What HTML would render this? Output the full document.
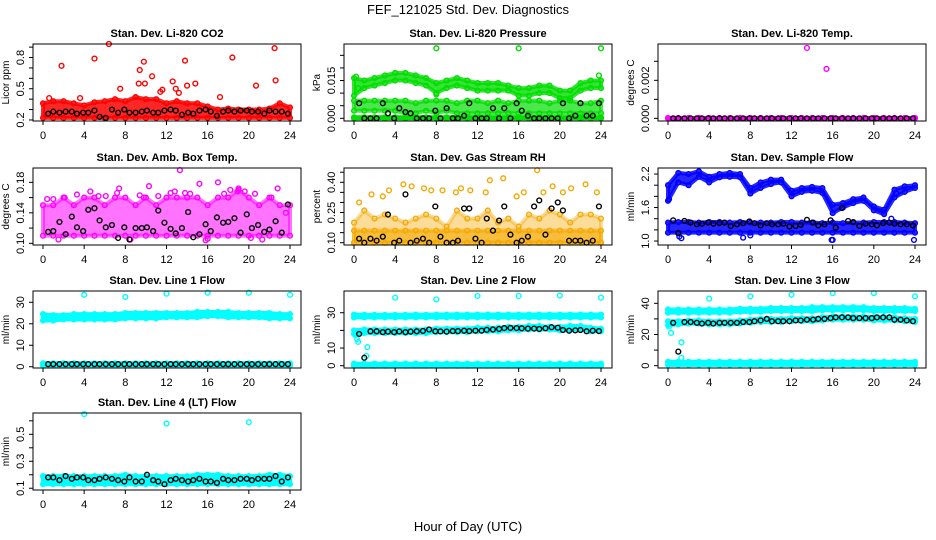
<!DOCTYPE html>
<html><head><meta charset="utf-8">
<style>
html,body{margin:0;padding:0;background:#fff;}
svg{display:block;font-family:"Liberation Sans",sans-serif;}
</style></head>
<body>
<svg id="chart" width="936" height="540" viewBox="0 0 936 540">
<text x="468" y="14" text-anchor="middle" font-size="13">FEF_121025  Std. Dev. Diagnostics</text>
<text x="468" y="531" text-anchor="middle" font-size="13">Hour of Day (UTC)</text>
</svg>
<script>
const fefXTicks = [0,4,8,12,16,20,24];
const fefBandHours = [0,1,2,3,4,5,6,7,8,9,10,11,12,13,14,15,16,17,18,19,20,21,22,23,24];
const fefBlackHours = [0.5,1,1.6,2.2,2.8,3.3,3.9,4.4,5,5.5,6.1,6.7,7.3,7.9,8.4,9,9.6,10.1,10.7,11.2,11.8,12.4,12.9,13.5,14.1,14.6,15.2,15.8,16.3,16.9,17.5,18,18.6,19.2,19.8,20.3,20.9,21.5,22,22.6,23.2,23.8];

const co2BandLow = [0.22,0.22,0.22,0.22,0.22,0.22,0.22,0.22,0.22,0.22,0.22,0.22,0.22,0.22,0.22,0.22,0.22,0.22,0.22,0.22,0.22,0.22,0.22,0.22,0.22];
const co2BandHigh = [0.36,0.38,0.38,0.36,0.34,0.37,0.38,0.40,0.38,0.42,0.40,0.40,0.36,0.38,0.36,0.36,0.33,0.30,0.31,0.30,0.30,0.30,0.31,0.36,0.32];
const co2OutT = [1.8,5,6.4,7.5,9.3,9.4,9.8,9.9,10.6,12.6,13.8,14,14.8,17.2,18.4,20.7,22.5,22.6,11.6,13.2,0.6,3.6,11.4,12.9];
const co2OutV = [0.72,0.79,0.93,0.50,0.55,0.68,0.76,0.55,0.62,0.57,0.77,0.53,0.55,0.42,0.80,0.53,0.89,0.58,0.49,0.46,0.41,0.41,0.47,0.50];
const co2Black = [0.26,0.28,0.27,0.28,0.28,0.26,0.27,0.27,0.29,0.23,0.22,0.30,0.27,0.30,0.27,0.27,0.28,0.29,0.27,0.27,0.29,0.30,0.29,0.25,0.27,0.26,0.29,0.30,0.28,0.24,0.28,0.29,0.28,0.29,0.29,0.28,0.28,0.26,0.29,0.28,0.28,0.26];

const presTopLow = [0.009,0.012,0.013,0.014,0.015,0.015,0.014,0.013,0.010,0.012,0.013,0.012,0.011,0.011,0.011,0.011,0.009,0.009,0.010,0.010,0.008,0.008,0.011,0.012,0.012];
const presTopHigh = [0.016,0.015,0.016,0.017,0.018,0.018,0.017,0.016,0.014,0.015,0.016,0.015,0.014,0.014,0.014,0.013,0.012,0.012,0.013,0.013,0.011,0.011,0.014,0.015,0.015];
const presMidLow = [0.003,0.003,0.003,0.003,0.003,0.002,0.002,0.003,0.002,0.003,0.002,0.002,0.002,0.002,0.002,0.002,0.002,0.002,0.002,0.002,0.002,0.002,0.002,0.002,0.002];
const presMidHigh = [0.007,0.007,0.007,0.007,0.007,0.007,0.006,0.007,0.007,0.007,0.006,0.007,0.007,0.006,0.007,0.006,0.007,0.007,0.007,0.006,0.007,0.007,0.006,0.006,0.007];
const presZeroLow = [0,0,0,0,0,0,0,0,0,0,0,0,0,0,0,0,0,0,0,0,0,0,0,0,0];
const presZeroHigh = [0.0004,0.0004,0.0004,0.0004,0.0004,0.0004,0.0004,0.0004,0.0004,0.0004,0.0004,0.0004,0.0004,0.0004,0.0004,0.0004,0.0004,0.0004,0.0004,0.0004,0.0004,0.0004,0.0004,0.0004,0.0004];
const presOutT = [8,16,24,0.2,0.4,8,23.8];
const presOutV = [0.0278,0.0278,0.0278,0.0165,0.012,0.0095,0.017];
const presBlack = [0.006,0,0,0,0.006,0.002,0,0.004,0.0025,0.002,0,0,0,0.003,0,0.004,0,0,0.001,0.006,0,0,0,0.004,0,0.004,0,0.006,0.003,0.001,0,0,0,0,0,0.006,0,0.001,0.006,0.001,0.001,0.006];

const tempBandLow = [0,0,0,0,0,0,0,0,0,0,0,0,0,0,0,0,0,0,0,0,0,0,0,0,0];
const tempBandHigh = [0.00002,0.00002,0.00002,0.00002,0.00002,0.00002,0.00002,0.00002,0.00002,0.00002,0.00002,0.00002,0.00002,0.00002,0.00002,0.00002,0.00002,0.00002,0.00002,0.00002,0.00002,0.00002,0.00002,0.00002,0.00002];
const tempOutT = [13.5,15.4];
const tempOutV = [0.0037,0.0026];
const tempBlack = [0,0,0,0,0,0,0,0,0,0,0,0,0,0,0,0,0,0,0,0,0,0,0,0,0,0,0,0,0,0,0,0,0,0,0,0,0,0,0,0,0,0];

const ambBandLow = [0.11,0.11,0.11,0.11,0.11,0.11,0.11,0.11,0.11,0.11,0.11,0.11,0.11,0.11,0.11,0.11,0.11,0.11,0.11,0.11,0.11,0.11,0.11,0.11,0.11];
const ambBandHigh = [0.15,0.15,0.16,0.15,0.16,0.16,0.15,0.16,0.16,0.15,0.16,0.15,0.16,0.16,0.16,0.16,0.15,0.16,0.16,0.17,0.16,0.15,0.16,0.15,0.15];
const ambOutT = [13.3,17,15.2,19,22.8,10.3,7.4,0.4,1.5,3.3,4.6,6.1,8.5,9.4,11.2,12.4,13.8,16,17.6,18.9,20.6,21.3,23.6,2.1,5.4,7.2,9.8,14.3,15.8,19.6,22.2,1,12.8,18.2,20.2];
const ambOutV = [0.196,0.180,0.178,0.172,0.172,0.175,0.172,0.158,0.105,0.164,0.168,0.162,0.105,0.163,0.162,0.166,0.166,0.106,0.165,0.168,0.165,0.105,0.14,0.160,0.162,0.166,0.16,0.165,0.104,0.168,0.16,0.158,0.168,0.17,0.107];
const ambBlack = [0.115,0.116,0.128,0.112,0.135,0.121,0.116,0.144,0.146,0.130,0.121,0.124,0.107,0.121,0.105,0.120,0.120,0.121,0.116,0.143,0.127,0.119,0.113,0.120,0.141,0.108,0.112,0.125,0.116,0.134,0.127,0.128,0.133,0.114,0.138,0.120,0.124,0.115,0.118,0.129,0.114,0.151];

const rhBandLow = [0.10,0.10,0.10,0.10,0.10,0.10,0.10,0.10,0.10,0.10,0.10,0.10,0.10,0.10,0.10,0.10,0.10,0.10,0.10,0.10,0.10,0.10,0.10,0.10,0.10];
const rhBandHigh = [0.20,0.26,0.22,0.24,0.22,0.20,0.22,0.24,0.22,0.18,0.26,0.22,0.22,0.26,0.20,0.22,0.18,0.24,0.22,0.26,0.24,0.20,0.24,0.24,0.22];
const rhLowHigh = [0.16,0.16,0.16,0.16,0.16,0.16,0.16,0.16,0.16,0.16,0.16,0.16,0.16,0.16,0.16,0.16,0.16,0.16,0.16,0.16,0.16,0.16,0.16,0.16,0.16];
const rhOutT = [17.8,14.5,13.2,4.8,22.5,19.3,2.8,3.4,5.6,6.8,8.6,9.9,11.3,12.8,15.8,16.5,20.3,21.1,23.6,1.7,7.5,10.4,18.4,0.5];
const rhOutV = [0.46,0.42,0.41,0.39,0.39,0.38,0.33,0.36,0.38,0.37,0.36,0.35,0.36,0.35,0.33,0.35,0.35,0.37,0.35,0.34,0.36,0.37,0.35,0.30];
const rhBlack = [0.12,0.10,0.12,0.11,0.13,0.24,0.10,0.11,0.34,0.10,0.11,0.12,0.10,0.28,0.13,0.10,0.10,0.11,0.27,0.27,0.12,0.10,0.22,0.16,0.21,0.28,0.14,0.10,0.11,0.13,0.28,0.31,0.14,0.27,0.30,0.26,0.11,0.11,0.11,0.10,0.11,0.28];

const flowTopLow = [1.72,2.05,2.00,2.15,2.05,2.14,2.15,2.14,1.85,1.95,2.02,2.05,1.80,1.88,1.90,1.86,1.50,1.60,1.68,1.72,1.55,1.48,1.78,1.88,1.95];
const flowTopHigh = [2.00,2.22,2.20,2.25,2.15,2.20,2.22,2.20,1.95,2.05,2.10,2.10,1.90,1.95,1.97,1.95,1.65,1.68,1.75,1.78,1.62,1.56,1.92,1.98,2.00];
const flowLowLow = [1.15,1.15,1.15,1.15,1.15,1.15,1.15,1.15,1.15,1.15,1.15,1.15,1.15,1.15,1.15,1.15,1.15,1.15,1.15,1.15,1.15,1.15,1.15,1.15,1.15];
const flowLowHigh = [1.33,1.34,1.34,1.33,1.34,1.34,1.33,1.34,1.33,1.33,1.33,1.34,1.34,1.33,1.33,1.32,1.33,1.32,1.33,1.33,1.34,1.34,1.34,1.33,1.32];
const flowOutT = [0.1,1.1,1.3,7.3,8,15.9,16,23.9,21.7,22.2];
const flowOutV = [1.75,1.08,1.05,1.06,1.10,1.02,1.02,1.02,1.40,1.85];
const flowBlack = [1.37,1.14,1.36,1.33,1.30,1.31,1.33,1.31,1.32,1.33,1.27,1.30,1.32,1.35,1.32,1.28,1.32,1.30,1.30,1.31,1.26,1.27,1.29,1.38,1.33,1.28,1.30,1.37,1.24,1.59,1.36,1.34,1.27,1.31,1.30,1.28,1.32,1.33,1.31,1.30,1.30,1.28];

const l1TopLow = [21.5,21.5,22,22,22,22,22,22,22.5,22.5,22.5,22.5,23,23,23,23,23.5,23.5,23,23,23,23,22.5,22.5,22.5];
const l1TopHigh = [24.5,24,24,24.5,24.5,24.5,24.5,24.5,25,25,25,25,25,25,25,25.5,25.5,25.5,25.5,25,25,25,25,24.5,24.5];
const l1ZeroLow = [0.6,0.6,0.6,0.6,0.6,0.6,0.6,0.6,0.6,0.6,0.6,0.6,0.6,0.6,0.6,0.6,0.6,0.6,0.6,0.6,0.6,0.6,0.6,0.6,0.6];
const l1ZeroHigh = [1.6,1.6,1.6,1.6,1.6,1.6,1.6,1.6,1.6,1.6,1.6,1.6,1.6,1.6,1.6,1.6,1.6,1.6,1.6,1.6,1.6,1.6,1.6,1.6,1.6];
const l1OutT = [4,8,12,16,20,24];
const l1OutV = [33.5,32.5,34,34.5,34.5,33.5];
const l1Black = [1.2,1.2,1.2,1.2,1.2,1.2,1.2,1.2,1.2,1.2,1.2,1.2,1.2,1.2,1.2,1.2,1.2,1.2,1.2,1.2,1.2,1.2,1.2,1.2,1.2,1.2,1.2,1.2,1.2,1.2,1.2,1.2,1.2,1.2,1.2,1.2,1.2,1.2,1.2,1.2,1.2,1.2];

const l2TopLow = [27.3,27.3,27.3,27.3,27.3,27.3,27.3,27.3,27.3,27.3,27.3,27.3,27.3,27.3,27.3,27.3,27.3,27.3,27.3,27.3,27.3,27.3,27.3,27.3,27.3];
const l2TopHigh = [29,28.8,28.8,28.8,28.8,28.8,29,28.8,29,29,29,29,29,29,29,29,29,29,29,29,29,29,29,29,29];
const l2MidLow = [18,18.5,18.5,18.5,18.5,18.5,18.5,18.5,19,19,19,19,19.5,19.5,19.5,20,20,20.5,20.5,20.5,20,20,20.5,19.5,19.5];
const l2MidHigh = [20,20.5,20.5,20.5,20.5,20.5,20.5,20.5,21,21,21,21,21.5,21.5,21.5,22,22,22.5,22.5,22,22,22.5,22.5,21.5,21];
const l2ZeroLow = [0,0,0,0,0,0,0,0,0,0,0,0,0,0,0,0,0,0,0,0,0,0,0,0,0];
const l2ZeroHigh = [1.2,1.2,1.2,1.2,1.2,1.2,1.2,1.2,1.2,1.2,1.2,1.2,1.2,1.2,1.2,1.2,1.2,1.2,1.2,1.2,1.2,1.2,1.2,1.2,1.2];
const l2OutT = [4,8,12,16,20,24,0.1,0.3,0.4,0.6,1.3,1.2];
const l2OutV = [38.5,37.5,39.5,39.5,39.7,38.5,17.5,15,13.5,19,10.5,5.5];
const l2Black = [18,4.5,19.5,19.5,19,19.3,19,19.4,19,19.3,19.5,19.7,20.5,19.5,19.4,19.3,19.6,19.6,19.8,19.6,19.8,19.8,20.3,20.5,20.8,21.3,21.4,21.3,21.2,21,21,20.8,21.2,21.8,21.5,20.2,19.8,20,20.2,19.5,19.8,19.6];

const l3TopLow = [34,34,34,34,34,34,34,34.5,34.5,34.5,35,35,35,35,35,35.5,35.5,35.5,35.5,35.5,35,35,35,35,35];
const l3TopHigh = [36,36,36,36,36,36,36,36.5,36.5,36.5,37,37,37,37,37.5,37.5,37.5,37.5,37.5,37.5,37,37,37,37,36.5];
const l3MidLow = [26,26.5,27,27,26.5,26.5,26.5,27,27.5,28,28,28,28.5,28.5,28.5,29,29.5,29.5,29.5,29.5,29,29,29,28.5,28];
const l3MidHigh = [28.5,28.5,29,29,28.5,28.5,28.5,29,29.5,30,30,30,30.5,30.5,30.5,31,31.5,31.5,31.5,31.5,31,31,31,30.5,30];
const l3ZeroLow = [0.5,0.5,0.5,0.5,0.5,0.5,0.5,0.5,0.5,0.5,0.5,0.5,0.5,0.5,0.5,0.5,0.5,0.5,0.5,0.5,0.5,0.5,0.5,0.5,0.5];
const l3ZeroHigh = [2.5,2.5,2.5,2.5,2.5,2.5,2.5,2.5,2.5,2.5,2.5,2.5,2.5,2.5,2.5,2.5,2.5,2.5,2.5,2.5,2.5,2.5,2.5,2.5,2.5];
const l3OutT = [4,8,12,16,20,24,0.1,0.3,1.3,1.3];
const l3OutV = [43,44.5,45.5,46.5,46.5,44.5,25,21,15,5];
const l3Black = [27.5,9,28,28,27.5,27,27.5,27,27.5,27.5,27.5,27.5,28,28,28.5,29,30,28.5,28.5,28.5,28.5,29,29,29.5,29.5,30,30,30.5,31,31,31,30.5,30.5,30.5,30.5,31,31,31,29.5,29.5,29,28.5];

const l4BandLow = [0.13,0.13,0.13,0.13,0.13,0.13,0.13,0.13,0.13,0.13,0.13,0.13,0.13,0.13,0.13,0.13,0.13,0.13,0.13,0.13,0.13,0.13,0.13,0.13,0.13];
const l4BandHigh = [0.19,0.19,0.19,0.19,0.19,0.19,0.19,0.19,0.2,0.19,0.19,0.19,0.19,0.19,0.19,0.2,0.2,0.2,0.19,0.19,0.19,0.19,0.2,0.2,0.19];
const l4OutT = [4,12,20];
const l4OutV = [0.65,0.58,0.59];
const l4Black = [0.18,0.18,0.16,0.19,0.17,0.18,0.18,0.16,0.16,0.17,0.18,0.17,0.16,0.15,0.18,0.15,0.15,0.20,0.16,0.15,0.13,0.16,0.17,0.16,0.15,0.16,0.17,0.15,0.15,0.14,0.17,0.16,0.16,0.17,0.17,0.16,0.17,0.17,0.17,0.19,0.15,0.18];

(function(){
  var colLeft = [33,344,658], colW = 268;
  var rowTop = [44,168,291,413], rowH = 77;
  var NS = 'http://www.w3.org/2000/svg';
  var root = document.getElementById('chart');
  function mk(tag, attrs, parent){ var e=document.createElementNS(NS,tag); for(var k in attrs){ e.setAttribute(k, String(attrs[k])); } (parent||root).appendChild(e); return e; }

  var panels = [
   {name:'co2',title:'Stan. Dev. Li-820 CO2',ylab:'Licor ppm',col:0,row:0,dom:[0.19,0.93],ticks:[0.2,0.3,0.4,0.5,0.6,0.7,0.8,0.9],labels:[[0.2,'0.2'],[0.5,'0.5'],[0.8,'0.8']],color:'#ff0000',
    bands:[[co2BandLow,co2BandHigh,0.85]],outT:co2OutT,outV:co2OutV,black:co2Black},
   {name:'pressure',title:'Stan. Dev. Li-820 Pressure',ylab:'kPa',col:1,row:0,dom:[-0.00107,0.0295],ticks:[0,0.005,0.01,0.015,0.02,0.025],labels:[[0,'0.000'],[0.015,'0.015']],color:'#00dd00',
    bands:[[presTopLow,presTopHigh,0.8],[presMidLow,presMidHigh,0.7],[presZeroLow,presZeroHigh,1]],outT:presOutT,outV:presOutV,black:presBlack},
   {name:'li820-temp',title:'Stan. Dev. Li-820 Temp.',ylab:'degrees C',col:2,row:0,dom:[-0.00014,0.00391],ticks:[0,0.001,0.002,0.003],labels:[[0,'0.000'],[0.002,'0.002']],color:'#ff00ff',
    bands:[[tempBandLow,tempBandHigh,1]],outT:tempOutT,outV:tempOutV,black:tempBlack},
   {name:'amb-box-temp',title:'Stan. Dev. Amb. Box Temp.',ylab:'degrees C',col:0,row:1,dom:[0.0978,0.1988],ticks:[0.10,0.12,0.14,0.16,0.18],labels:[[0.10,'0.10'],[0.14,'0.14'],[0.18,'0.18']],color:'#ff00ff',
    bands:[[ambBandLow,ambBandHigh,0.55]],outT:ambOutT,outV:ambOutV,black:ambBlack},
   {name:'gas-stream-rh',title:'Stan. Dev. Gas Stream RH',ylab:'percent',col:1,row:1,dom:[0.0886,0.471],ticks:[0.10,0.15,0.20,0.25,0.30,0.35,0.40,0.45],labels:[[0.10,'0.10'],[0.25,'0.25'],[0.40,'0.40']],color:'#f5a800',
    bands:[[rhBandLow,rhBandHigh,0.4],[rhBandLow,rhLowHigh,0.6]],outT:rhOutT,outV:rhOutV,black:rhBlack},
   {name:'sample-flow',title:'Stan. Dev. Sample Flow',ylab:'ml/min',col:2,row:1,dom:[0.929,2.308],ticks:[1.0,1.2,1.4,1.6,1.8,2.0,2.2],labels:[[1.0,'1.0'],[1.6,'1.6'],[2.2,'2.2']],color:'#0000ff',
    bands:[[flowTopLow,flowTopHigh,0.85],[flowLowLow,flowLowHigh,0.85]],outT:flowOutT,outV:flowOutV,black:flowBlack},
   {name:'line1-flow',title:'Stan. Dev. Line 1 Flow',ylab:'ml/min',col:0,row:2,dom:[-0.6,35.26],ticks:[0,10,20,30],labels:[[0,'0'],[10,'10'],[20,'20'],[30,'30']],color:'#00ffff',
    bands:[[l1TopLow,l1TopHigh,1],[l1ZeroLow,l1ZeroHigh,1]],outT:l1OutT,outV:l1OutV,black:l1Black},
   {name:'line2-flow',title:'Stan. Dev. Line 2 Flow',ylab:'ml/min',col:1,row:2,dom:[-1.3,42.3],ticks:[0,10,20,30],labels:[[0,'0'],[10,'10'],[30,'30']],color:'#00ffff',
    bands:[[l2TopLow,l2TopHigh,1],[l2MidLow,l2MidHigh,1],[l2ZeroLow,l2ZeroHigh,1]],outT:l2OutT,outV:l2OutV,black:l2Black},
   {name:'line3-flow',title:'Stan. Dev. Line 3 Flow',ylab:'ml/min',col:2,row:2,dom:[-1.5,47.9],ticks:[0,10,20,30,40],labels:[[0,'0'],[20,'20'],[40,'40']],color:'#00ffff',
    bands:[[l3TopLow,l3TopHigh,1],[l3MidLow,l3MidHigh,1],[l3ZeroLow,l3ZeroHigh,1]],outT:l3OutT,outV:l3OutV,black:l3Black},
   {name:'line4-flow',title:'Stan. Dev. Line 4 (LT) Flow',ylab:'ml/min',col:0,row:3,dom:[0.087,0.658],ticks:[0.1,0.2,0.3,0.4,0.5,0.6],labels:[[0.1,'0.1'],[0.3,'0.3'],[0.5,'0.5']],color:'#00ffff',
    bands:[[l4BandLow,l4BandHigh,1]],outT:l4OutT,outV:l4OutV,black:l4Black}
  ];

  panels.forEach(function(p){
    var L=colLeft[p.col], T=rowTop[p.row], R=L+colW, B=T+rowH;
    function xs(h){ return L+10+h*(247/24); }
    function ys(v){ return B-(v-p.dom[0])/(p.dom[1]-p.dom[0])*rowH; }
    var g = mk('g',{});
    
    
    var tt = mk('text',{x:(L+R)/2,y:T-7,'text-anchor':'middle','font-size':11,'font-weight':'bold'},g);
    tt.textContent=p.title;
    
    
    p.bands.forEach(function(b){
      var lo=b[0], hi=b[1], op=b[2], pts=[], i;
      for(i=0;i<fefBandHours.length;i++) pts.push(xs(fefBandHours[i])+','+ys(hi[i]));
      for(i=fefBandHours.length-1;i>=0;i--) pts.push(xs(fefBandHours[i])+','+ys(lo[i]));
      var poly=mk('polygon',{points:pts.join(' '),fill:p.color,'fill-opacity':op,stroke:p.color,'stroke-opacity':op,'stroke-width':4,'stroke-linejoin':'round'},g);
      
      
      for(i=0;i<fefBandHours.length;i++){
        [lo[i],hi[i]].forEach(function(v){
          var c=mk('circle',{cx:xs(fefBandHours[i]),cy:ys(v),r:2.4,fill:'none',stroke:p.color,'stroke-width':1.3},g);
          
          
        });
      }
    });
    p.outT.forEach(function(h,i){
      var c=mk('circle',{cx:xs(h),cy:ys(p.outV[i]),r:2.4,fill:'none',stroke:p.color,'stroke-width':1.4},g);
      
      
    });
    p.black.forEach(function(v,i){
      var c=mk('circle',{cx:xs(fefBlackHours[i]),cy:ys(v),r:2.4,fill:'none',stroke:'#000','stroke-width':1.4},g);
      
      
    });
    var box=mk('rect',{x:L,y:T,width:colW,height:rowH,fill:'none',stroke:'#000','stroke-width':1},g);
    
    
    fefXTicks.forEach(function(h){
      mk('line',{x1:xs(h),x2:xs(h),y1:B,y2:B+4,stroke:'#000'},g);
      var tx=mk('text',{x:xs(h),y:B+18,'text-anchor':'middle','font-size':11},g);
      tx.textContent=String(h);
      
      
    });
    p.ticks.forEach(function(v){ mk('line',{x1:L-4,x2:L,y1:ys(v),y2:ys(v),stroke:'#000'},g); });
    p.labels.forEach(function(l){
      var y=ys(l[0]), x=L-9;
      var ty=mk('text',{x:x,y:y,'text-anchor':'middle','font-size':11,transform:'rotate(-90 '+x+' '+y+')'},g);
      ty.textContent=l[1];
      
      
    });
    var cy=(T+B)/2, lx=L-24;
    var yl=mk('text',{x:lx,y:cy,'text-anchor':'middle','font-size':10,transform:'rotate(-90 '+lx+' '+cy+')'},g);
    yl.textContent=p.ylab;
    
    
  });
})();
</script>
</body></html>
